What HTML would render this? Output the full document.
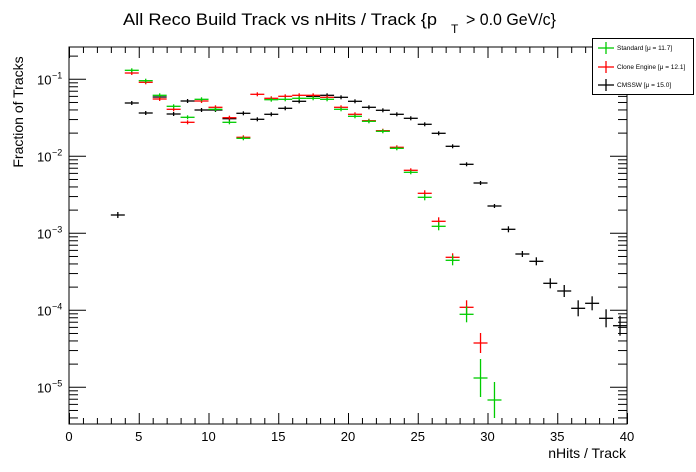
<!DOCTYPE html>
<html><head><style>
body{margin:0;background:#fff;}
svg{display:block;font-family:"Liberation Sans",sans-serif;}
</style></head><body>
<svg id="s" width="696" height="472" xmlns="http://www.w3.org/2000/svg">
<text x="123" y="25" font-size="17" textLength="314" lengthAdjust="spacingAndGlyphs">All Reco Build Track vs nHits / Track {p</text>
<text x="451" y="33" font-size="12">T</text>
<text x="466" y="25" font-size="17" textLength="90" lengthAdjust="spacingAndGlyphs">&gt; 0.0 GeV/c}</text>
<text transform="translate(23,112) rotate(-90)" font-size="14" text-anchor="middle">Fraction of Tracks</text>
<text x="626" y="458" font-size="14" text-anchor="end">nHits / Track</text>
<rect x="69" y="47" width="558" height="377" fill="none" stroke="#000" stroke-width="1"/>
<g id="ax" stroke="#000" stroke-width="1"></g>
<g id="lab" font-size="13"></g>
<g id="data" stroke-width="1.3"></g>
<rect x="592.5" y="38.5" width="101" height="56" fill="#fff" stroke="#000"/>
<g font-size="6.5">
<line x1="598" y1="48" x2="614" y2="48" stroke="#00cc00" stroke-width="1.3"/><line x1="606" y1="42" x2="606" y2="54" stroke="#00cc00" stroke-width="1.3"/>
<text x="617" y="50">Standard  [μ = 11.7]</text>
<line x1="598" y1="67" x2="614" y2="67" stroke="#ff0000" stroke-width="1.3"/><line x1="606" y1="61" x2="606" y2="73" stroke="#ff0000" stroke-width="1.3"/>
<text x="617" y="69">Clone Engine  [μ = 12.1]</text>
<line x1="598" y1="85" x2="614" y2="85" stroke="#000" stroke-width="1.3"/><line x1="606" y1="79" x2="606" y2="91" stroke="#000" stroke-width="1.3"/>
<text x="617" y="87">CMSSW  [μ = 15.0]</text>
</g>
</svg>
<script>
var NS="http://www.w3.org/2000/svg";
function el(p,t,a,txt){var e=document.createElementNS(NS,t);for(var k in a)e.setAttribute(k,a[k]);if(txt!==undefined)e.textContent=txt;document.getElementById(p).appendChild(e);return e;}
function X(b){return 69+13.95*b;}
for(var i=0;i<=40;i++){var x=X(i)+0.5,L=(i%5==0)?11:6;
 el("ax","line",{x1:x,y1:424,x2:x,y2:424-L});el("ax","line",{x1:x,y1:47,x2:x,y2:47+L});
 if(i%5==0)el("lab","text",{x:X(i),y:441,"text-anchor":"middle"},String(i));}
var dec={0:2.3,"-1":79.3,"-2":156.3,"-3":233.3,"-4":310.3,"-5":387.3,"-6":464.3};
for(var d=-6;d<=0;d++){var y0=dec[d];
 for(var k=1;k<=9;k++){var y=y0-77*Math.log10(k);if(y<47||y>424)continue;var L=(k==1)?17:9;
  el("ax","line",{x1:69,y1:y,x2:69+L,y2:y});el("ax","line",{x1:627,y1:y,x2:627-L,y2:y});}
 if(y0>=47&&y0<=424){el("lab","text",{x:37,y:y0+5},"10");
  el("lab","text",{x:52,y:y0-1,"font-size":"9"},"−"+(-d));}}
function pts(col,arr){arr.forEach(function(p){var x=X(p[0]),y=p[1],e=p[2]||2;
 el("data","line",{x1:x-7,y1:y,x2:x+7,y2:y,stroke:col});
 el("data","line",{x1:x,y1:y-e,x2:x,y2:Math.min(y+e,424),stroke:col});});}
pts("#000",[[3.5,215,3],[4.5,103],[5.5,113],[6.5,97],[7.5,114],[8.5,101],[9.5,110],[10.5,110],[11.5,118.7],[12.5,113.3],[13.5,119.3],[14.5,114.3],[15.5,108.3],[16.5,101.3],[17.5,96.3],[18.5,95.3],[19.5,97.3],[20.5,101.3],[21.5,107.3],[22.5,110.3],[23.5,114.3],[24.5,118.3],[25.5,124.3],[26.5,133.3],[27.5,146.3],[28.5,164.3],[29.5,183],[30.5,206,2],[31.5,229.3,3],[32.5,254,3],[33.5,261.3,4],[34.5,283.3,5],[35.5,291,6],[36.5,308.3,8],[37.5,303.3,7],[38.5,318.3,9],[39.5,325.7,10]]);
pts("#ff0000",[[4.5,73],[5.5,82.3],[6.5,99],[7.5,109.3],[8.5,122.3],[9.5,101],[10.5,107.3],[11.5,117.7],[12.5,137.3],[13.5,94.3],[14.5,98.3],[15.5,96.3],[16.5,95.3],[17.5,95.3],[18.5,97.3],[19.5,107.3],[20.5,114.3],[21.5,120.7],[22.5,130.7],[23.5,147.3],[24.5,170.3],[25.5,193.3,3],[26.5,221.3,4],[27.5,257.3,4],[28.5,307.3,7],[29.5,343,10]]);
pts("#00cc00",[[4.5,70.3],[5.5,80.7],[6.5,95.3],[7.5,106.3],[8.5,117.3],[9.5,99.3],[10.5,109.3],[11.5,122.3],[12.5,138.3],[14.5,99.7],[15.5,99.3],[16.5,98.3],[17.5,98.3],[18.5,99.3],[19.5,109.3],[20.5,116.3],[21.5,121.3],[22.5,131.3],[23.5,148.3],[24.5,172.3],[25.5,197.3,3],[26.5,226.3,4],[27.5,260.3,5],[28.5,314.3,8],[29.5,378,19],[30.5,400,18]]);
</script>
</body></html>
